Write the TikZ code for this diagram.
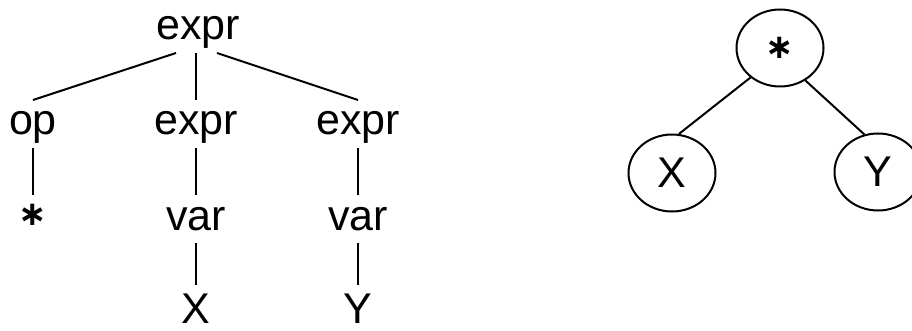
\documentclass[tikz,border=0pt]{standalone}
\usepackage{fontspec}
\setmainfont{Liberation Sans}
\newfontfamily\opfont{DejaVu Sans}
\usetikzlibrary{positioning}
\usetikzlibrary{shapes.geometric}

\newcommand{\opstar}{{\opfont\bfseries\fontsize{34}{40}\selectfont ∗}}

\begin{document}
\begin{tikzpicture}[x=1pt, y=-1pt, line width=2pt, font=\fontsize{43}{50}\selectfont,
    sym/.style={inner sep=0pt, outer sep=4pt, text height=31pt, text depth=9pt},
    astnode/.style={ellipse, draw, inner sep=0pt, minimum width=87pt, minimum height=77pt}]
\useasboundingbox (0,0) rectangle (912,331);

% parse tree
\node[sym] (e0) at (198,29) {expr};
\node[sym, below=47pt of e0, xshift=-2pt] (e2) {expr};
\node[sym, below=47pt of e0, xshift=-165pt] (op) {op};
\node[sym, below=47pt of e0, xshift=160pt] (e3) {expr};
\node[sym, below=47pt of op, yshift=5pt] (star) {\opstar};
\node[sym, below=47pt of e2] (v1) {var};
\node[sym, below=47pt of e3] (v2) {var};
\node[sym, text depth=0pt, below=45pt of v1] (x1) {X};
\node[sym, text depth=0pt, below=45pt of v2] (y1) {Y};

\draw ([xshift=-22pt]e0.south) -- (op.north);
\draw (e2.north |- e0.south) -- (e2.north);
\draw ([xshift=19pt]e0.south) -- (e3.north);
\draw (op.south) -- ([yshift=-5pt]star.north);
\draw (e2.south) -- (v1.north);
\draw (e3.south) -- (v2.north);
\draw (v1.south) -- ([yshift=3pt]x1.north);
\draw (v2.south) -- ([yshift=3pt]y1.north);

% syntax tree
\node[astnode] (mul) at (780,48) {\opstar};
\node[astnode] (nx) at (672,173) {X};
\node[astnode] (ny) at (878,172) {Y};

\draw (mul.225) -- (nx.80);
\draw (mul.-52) -- (ny.110);
\end{tikzpicture}
\end{document}
